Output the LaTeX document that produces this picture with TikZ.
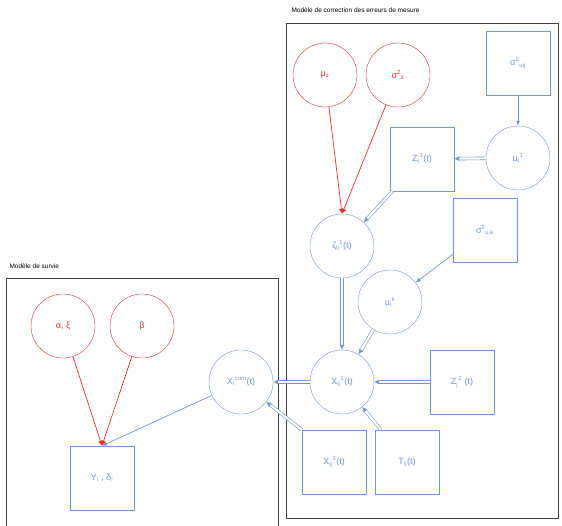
\documentclass[tikz,border=0pt]{standalone}
\usepackage{fontspec}
\setmainfont{Liberation Sans}
\usetikzlibrary{arrows.meta}
\definecolor{modelblue}{RGB}{112,150,218}
\definecolor{priorred}{RGB}{232,48,48}
\newcommand{\lbl}{\fontsize{9}{11}\selectfont}
\newcommand{\lo}[1]{\textsubscript{#1}}
\newcommand{\hi}[1]{\textsuperscript{#1}}
\begin{document}
\begin{tikzpicture}[x=1pt,y=-1pt,
    latent/.style={circle, draw=modelblue, text=modelblue, minimum size=64pt, inner sep=0pt, font=\lbl},
    prior/.style={circle, draw=priorred, text=priorred, minimum size=64pt, inner sep=0pt, font=\lbl},
    obs/.style={rectangle, draw=modelblue, text=modelblue, minimum size=64pt, inner sep=0pt, font=\lbl},
    frame/.style={draw=black!75, line width=0.7pt},
    single/.style={draw=modelblue, line width=0.7pt, -{Latex[length=5pt,width=4pt]}},
    redarr/.style={draw=priorred, line width=0.7pt, -{Latex[length=5pt,width=5pt]}},
    twin/.style={draw=modelblue, double=white, double distance=2.2pt, line width=0.6pt, -{Latex[length=5pt,width=5pt]}}]
        \useasboundingbox (0,0) rectangle (562,525);

        % frames
        \draw[frame] (286,23) rectangle (558,518);
        \draw[frame] (6,278) rectangle (278,530);
        \node[anchor=west, font=\fontsize{6.5}{8}\selectfont] (titlemes) at (288,10) {Modèle de correction des erreurs de mesure};
        \node[anchor=west, font=\fontsize{6.5}{8}\selectfont] (titlesurv) at (6,266) {Modèle de survie};

        % measurement model
        \node[style=prior] (muz) at (325,75) {μ\lo{z}};
        \node[style=prior] (sigz) at (398,75) {σ\hi{2}\lo{z}};
        \node[style=obs] (siguij) at (518,63) {σ\hi{2}\lo{uij}};
        \node[style=latent] (ui1) at (518,158) {u\lo{i}\hi{1}};
        \node[style=obs] (zj1) at (422,159) {Z\lo{j}\hi{1}(t)};
        \node[style=latent] (zeta) at (342,246) {ζ\lo{ij}\hi{1}(t)};
        \node[style=obs] (siguk) at (485,230) {σ\hi{2}\lo{u,k}};
        \node[style=latent] (uik) at (390,302) {u\lo{i}\hi{k}};
        \node[style=latent] (xij1) at (342,382) {X\lo{ij}\hi{1}(t)};
        \node[style=obs] (zj2) at (462,382) {Z\lo{j}\hi{2} (t)};
        \node[style=obs] (xij3) at (334,462) {X\lo{ij}\hi{3}(t)};
        \node[style=obs] (tij) at (407,462) {T\lo{ij}(t)};

        % survival model
        \node[style=prior] (alxi) at (63,326) {α, ξ};
        \node[style=prior] (beta) at (142,326) {β};
        \node[style=obs] (ydel) at (102,478) {Y\lo{i} , δ\lo{i}};
        \node[style=latent] (xcum) at (241,382) {X\lo{i}\hi{cum}(t)};

        \draw
            (muz) edge[redarr] (zeta.north)
            (sigz) edge[redarr] (zeta.north)
            (siguij) edge[single] (ui1)
            (ui1) edge[twin] (zj1)
            (zj1) edge[twin] (zeta)
            (siguk) edge[single] (uik)
            (zeta) edge[twin] (xij1)
            (uik) edge[twin] (xij1)
            (zj2) edge[twin] (xij1)
            (tij) edge[twin] (xij1)
            (xij1) edge[twin] (xcum)
            (xij3.north west) edge[twin] (xcum)
            (alxi) edge[redarr] (ydel.north)
            (beta) edge[redarr] (ydel.north)
            (xcum) edge[single] (ydel.north)
        ;
\end{tikzpicture}
\end{document}
